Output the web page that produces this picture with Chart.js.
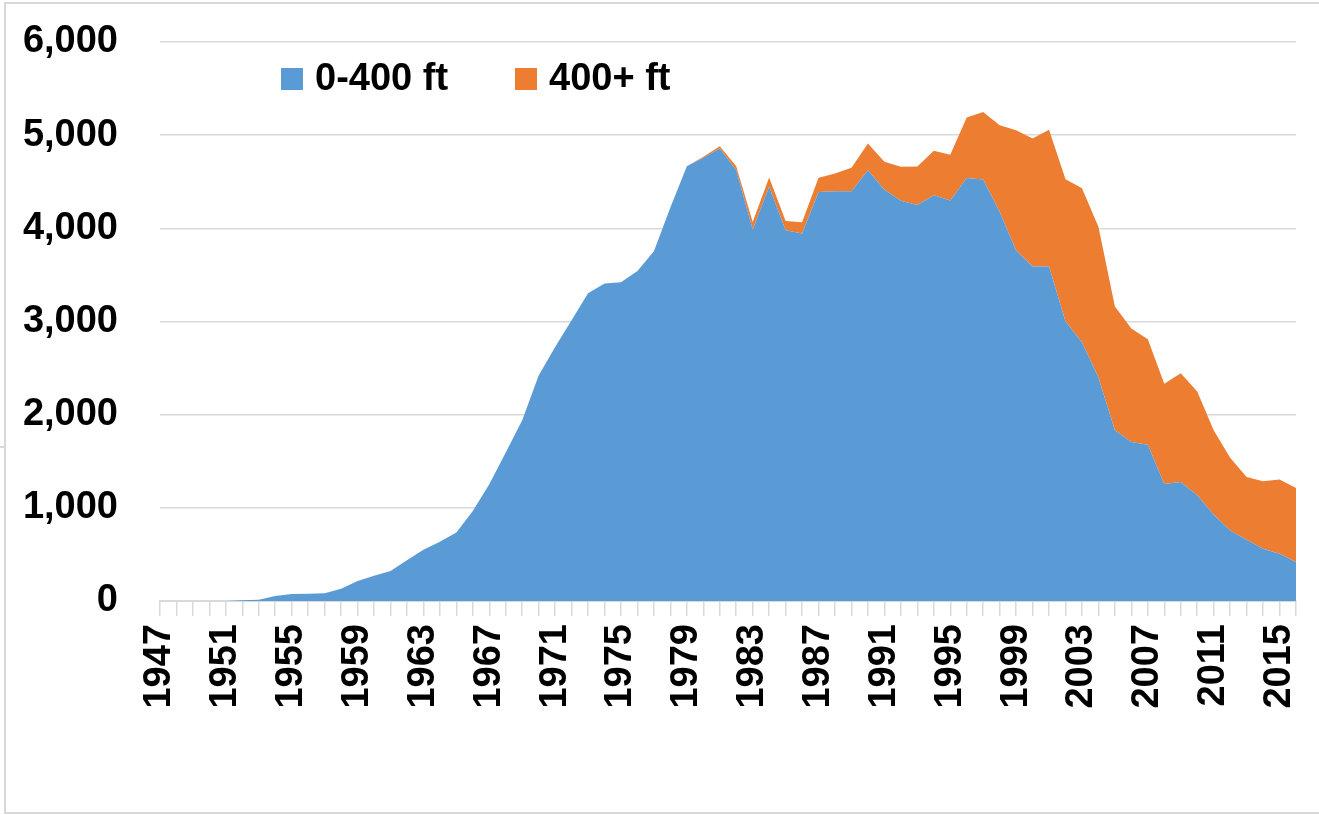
<!DOCTYPE html>
<html>
<head>
<meta charset="utf-8">
<script src="https://cdn.jsdelivr.net/npm/chart.js@4.4.1/dist/chart.umd.min.js"></script>
<style>
  html, body { margin: 0; padding: 0; background: #ffffff; }
  #chart { display: block; }
</style>
</head>
<body>
<canvas id="chart" width="1319" height="815"></canvas>
<script>
// years on the category axis
const years = [];
for (let y = 1947; y <= 2016; y++) years.push(String(y));

// 0-400 ft series, 1947..2016
const shallow = [
    0, 0, 0, 0, 0, 7, 14, 54, 75, 79,
    82, 132, 215, 272, 322, 437, 551, 637, 734, 967,
    1253, 1593, 1940, 2420, 2727, 3013, 3303, 3407, 3421, 3543,
    3754, 4223, 4667, 4757, 4857, 4624, 3987, 4445, 3980, 3944,
    4391, 4399, 4399, 4624, 4415, 4295, 4250, 4354, 4300, 4539,
    4525, 4179, 3761, 3589, 3589, 3000, 2778, 2400, 1832, 1706,
    1678, 1255, 1277, 1134, 926, 758, 658, 561, 507, 418
];

// 400+ ft series, 1947..2016
const deep = [
    0, 0, 0, 0, 0, 0, 0, 0, 0, 0,
    0, 0, 0, 0, 0, 0, 0, 0, 0, 0,
    0, 0, 0, 0, 0, 0, 0, 0, 0, 0,
    0, 0, 0, 10, 25, 43, 82, 100, 100, 122,
    151, 189, 250, 287, 300, 365, 414, 478, 489, 650,
    725, 928, 1293, 1375, 1468, 1527, 1653, 1616, 1328, 1218,
    1132, 1078, 1167, 1116, 906, 780, 672, 723, 798, 794
];

const seriesNames = ['0-400 ft', '400+ ft'];
const seriesColors = ['#5B9BD5', '#ED7D31'];
const yTicks = [0, 1000, 2000, 3000, 4000, 5000, 6000];

const FONT = "'Liberation Sans', Arial, sans-serif";
const GRID = '#D9D9D9';

Chart.defaults.font.family = FONT;
Chart.defaults.color = '#000000';

// light frame around the chart, as in the spreadsheet export
const framePlugin = {
    id: 'frame',
    beforeDraw(chart) {
        const ctx = chart.ctx;
        ctx.save();
        ctx.strokeStyle = GRID;
        ctx.lineWidth = 2;
        ctx.beginPath();
        ctx.moveTo(4, 3);
        ctx.lineTo(chart.width, 3);
        ctx.moveTo(5, 3);
        ctx.lineTo(5, 813);
        ctx.lineTo(chart.width, 813);
        ctx.moveTo(0, 447);
        ctx.lineTo(5, 447);
        ctx.stroke();
        ctx.restore();
    }
};

// legend drawn inside the plot area, upper left
const insideLegend = {
    id: 'insideLegend',
    afterDraw(chart) {
        const ctx = chart.ctx;
        const area = chart.chartArea;
        const offsets = [121, 355];
        ctx.save();
        ctx.font = 'bold 38px ' + FONT;
        ctx.textBaseline = 'middle';
        ctx.textAlign = 'left';
        chart.data.datasets.forEach((ds, i) => {
            const x = area.left + offsets[i];
            const cy = area.top + 38;
            ctx.fillStyle = ds.backgroundColor;
            ctx.fillRect(x, cy - 12, 22, 22);
            ctx.fillStyle = '#000000';
            ctx.fillText(ds.label, x + 34, cy);
        });
        ctx.restore();
    }
};

new Chart(document.getElementById('chart'), {
    type: 'line',
    data: {
        labels: years,
        datasets: [
            {
                label: seriesNames[0],
                data: shallow,
                backgroundColor: seriesColors[0],
                borderColor: seriesColors[0],
                borderWidth: 0,
                pointRadius: 0,
                fill: 'origin',
                tension: 0
            },
            {
                label: seriesNames[1],
                data: deep,
                backgroundColor: seriesColors[1],
                borderColor: seriesColors[1],
                borderWidth: 0,
                pointRadius: 0,
                fill: '-1',
                tension: 0
            }
        ]
    },
    options: {
        responsive: false,
        animation: false,
        layout: { padding: { top: 42, right: 23, bottom: 0, left: 0 } },
        plugins: {
            legend: { display: false },
            tooltip: { enabled: false }
        },
        scales: {
            x: {
                type: 'category',
                offset: false,
                grid: {
                    display: true,
                    drawOnChartArea: false,
                    drawTicks: true,
                    tickLength: 15,
                    color: GRID,
                    lineWidth: 1.5
                },
                border: { display: true, color: GRID, width: 2 },
                ticks: {
                    autoSkip: false,
                    maxRotation: 90,
                    minRotation: 90,
                    padding: 8,
                    font: { size: 38, weight: 'bold' },
                    color: '#000000',
                    callback: function (val, idx) {
                        return idx % 4 === 0 ? this.getLabelForValue(val) : '';
                    }
                },
                afterFit(scale) {
                    scale.height = 214;
                    scale.paddingLeft = 0;
                    scale.paddingRight = 0;
                }
            },
            y: {
                stacked: true,
                min: yTicks[0],
                max: yTicks[yTicks.length - 1],
                grid: { color: GRID, lineWidth: 1.5, drawTicks: false },
                border: { display: false },
                afterBuildTicks(scale) {
                    scale.ticks = yTicks.map(v => ({ value: v }));
                },
                ticks: {
                    padding: 42,
                    font: { size: 38, weight: 'bold' },
                    color: '#000000',
                    callback: v => v.toLocaleString('en-US')
                },
                afterFit(scale) {
                    scale.width = 160;
                    scale.paddingTop = 0;
                    scale.paddingBottom = 0;
                }
            }
        }
    },
    plugins: [framePlugin, insideLegend]
});
</script>
</body>
</html>
